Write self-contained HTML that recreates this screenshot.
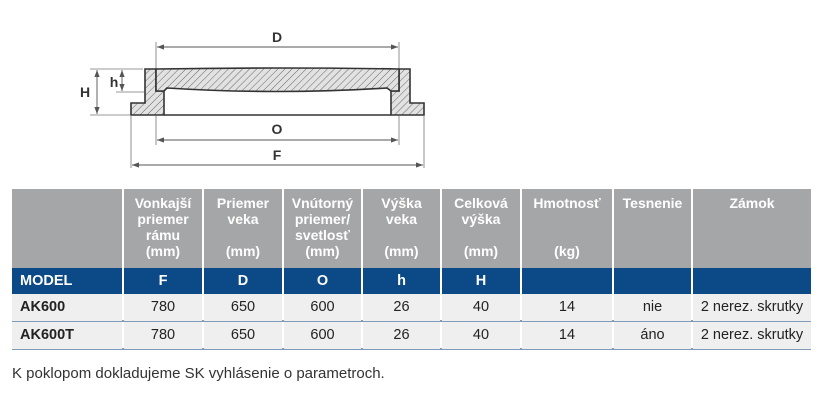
<!DOCTYPE html>
<html><head><meta charset="utf-8"><style>
*{margin:0;padding:0;box-sizing:border-box}
body{width:840px;height:418px;background:#fff;position:relative;overflow:hidden;font-family:"Liberation Sans",sans-serif}
.c{position:absolute;text-align:center;font-size:14px;line-height:16px}
.h{background:#a5a6a8;color:#fff;font-weight:bold;top:189px;height:79px;padding-top:6px}
.b{background:#0b4a86;color:#fff;font-weight:bold;top:268px;height:26px;line-height:26px;font-size:14.5px}
.r{background:#efefef;color:#222;height:27px;line-height:27px;font-size:14.5px}
</style></head><body>
<svg width="840" height="180" style="position:absolute;left:0;top:0">
<defs><pattern id="p" width="5" height="5" patternUnits="userSpaceOnUse" patternTransform="rotate(45)"><rect width="5" height="5" fill="#e2e2e2"/><line x1="0" y1="0" x2="0" y2="5" stroke="#666" stroke-width="1"/></pattern>
<marker id="a" markerWidth="8" markerHeight="6" refX="8" refY="3" orient="auto-start-reverse"><path d="M0,0 L8,3 L0,6" fill="#555"/></marker></defs>
<g stroke="#333" stroke-width="1.6" fill="url(#p)">
<path d="M145,69 L156,69 L156,91 L164,91 L164,115 L131,115 L131,103 L145,103 Z"/>
<path d="M410,69 L399,69 L399,91 L391,91 L391,115 L424,115 L424,103 L410,103 Z"/>
<path d="M156,69 Q277,67 399,69 L399,91 L391,91 L387,88 Q277,95 167,88 L164,91 L156,91 Z"/>
</g>
<line x1="164" y1="115" x2="391" y2="115" stroke="#333" stroke-width="1.6"/>
<g stroke="#777" stroke-width="0.8" fill="none">
<line x1="156" y1="42" x2="156" y2="68"/><line x1="399" y1="42" x2="399" y2="68"/>
<line x1="156" y1="116" x2="156" y2="145"/><line x1="399" y1="116" x2="399" y2="145"/>
<line x1="131" y1="116" x2="131" y2="168"/><line x1="424" y1="116" x2="424" y2="168"/>
<line x1="90" y1="69" x2="143" y2="69"/><line x1="90" y1="115" x2="130" y2="115"/><line x1="116" y1="92" x2="144" y2="92"/>
</g>
<g stroke="#555" stroke-width="0.9" marker-start="url(#a)" marker-end="url(#a)">
<line x1="157" y1="47" x2="398" y2="47"/><line x1="157" y1="140" x2="398" y2="140"/><line x1="132" y1="165" x2="423" y2="165"/>
<line x1="97" y1="70" x2="97" y2="114"/><line x1="122" y1="70" x2="122" y2="91"/>
</g>
<g font-family="Liberation Sans" font-weight="bold" font-size="14" fill="#333" text-anchor="middle">
<text x="277" y="42">D</text><text x="277" y="134">O</text><text x="277" y="160">F</text>
<text x="85" y="97">H</text><text x="114" y="87">h</text></g>
</svg>
<div class="c h" style="left:12px;width:110px"></div>
<div class="c h" style="left:124px;width:78px">Vonkajší<br>priemer<br>rámu<br>(mm)</div>
<div class="c h" style="left:204px;width:78px">Priemer<br>veka<br><br>(mm)</div>
<div class="c h" style="left:284px;width:77px">Vnútorný<br>priemer/<br>svetlosť<br>(mm)</div>
<div class="c h" style="left:363px;width:77px">Výška<br>veka<br><br>(mm)</div>
<div class="c h" style="left:442px;width:78px">Celková<br>výška<br><br>(mm)</div>
<div class="c h" style="left:522px;width:90px">Hmotnosť<br><br><br>(kg)</div>
<div class="c h" style="left:614px;width:77px">Tesnenie</div>
<div class="c h" style="left:693px;width:118px">Zámok</div>
<div class="c b" style="left:12px;width:110px;text-align:left;padding-left:8px">MODEL</div>
<div class="c b" style="left:124px;width:78px">F</div>
<div class="c b" style="left:204px;width:78px">D</div>
<div class="c b" style="left:284px;width:77px">O</div>
<div class="c b" style="left:363px;width:77px">h</div>
<div class="c b" style="left:442px;width:78px">H</div>
<div class="c b" style="left:522px;width:90px"></div>
<div class="c b" style="left:614px;width:77px"></div>
<div class="c b" style="left:693px;width:118px"></div>
<div style="position:absolute;left:12px;top:294px;width:799px;height:55px;background:#fff"></div>
<div style="position:absolute;left:12px;top:320px;width:799px;height:2px;background:#7f9bb8"></div>
<div style="position:absolute;left:12px;top:348px;width:799px;height:2px;background:#7f9bb8"></div>
<div class="c r" style="left:12px;top:294px;width:110px;text-align:left;padding-left:8px;font-weight:bold">AK600</div>
<div class="c r" style="left:124px;top:294px;width:78px">780</div>
<div class="c r" style="left:204px;top:294px;width:78px">650</div>
<div class="c r" style="left:284px;top:294px;width:77px">600</div>
<div class="c r" style="left:363px;top:294px;width:77px">26</div>
<div class="c r" style="left:442px;top:294px;width:78px">40</div>
<div class="c r" style="left:522px;top:294px;width:90px">14</div>
<div class="c r" style="left:614px;top:294px;width:77px">nie</div>
<div class="c r" style="left:693px;top:294px;width:118px">2 nerez. skrutky</div>
<div class="c r" style="left:12px;top:322px;width:110px;text-align:left;padding-left:8px;font-weight:bold">AK600T</div>
<div class="c r" style="left:124px;top:322px;width:78px">780</div>
<div class="c r" style="left:204px;top:322px;width:78px">650</div>
<div class="c r" style="left:284px;top:322px;width:77px">600</div>
<div class="c r" style="left:363px;top:322px;width:77px">26</div>
<div class="c r" style="left:442px;top:322px;width:78px">40</div>
<div class="c r" style="left:522px;top:322px;width:90px">14</div>
<div class="c r" style="left:614px;top:322px;width:77px">áno</div>
<div class="c r" style="left:693px;top:322px;width:118px">2 nerez. skrutky</div>
<div style="position:absolute;left:12px;top:365px;font-size:15px;color:#333;white-space:nowrap">K poklopom dokladujeme SK vyhlásenie o parametroch.</div>
</body></html>
